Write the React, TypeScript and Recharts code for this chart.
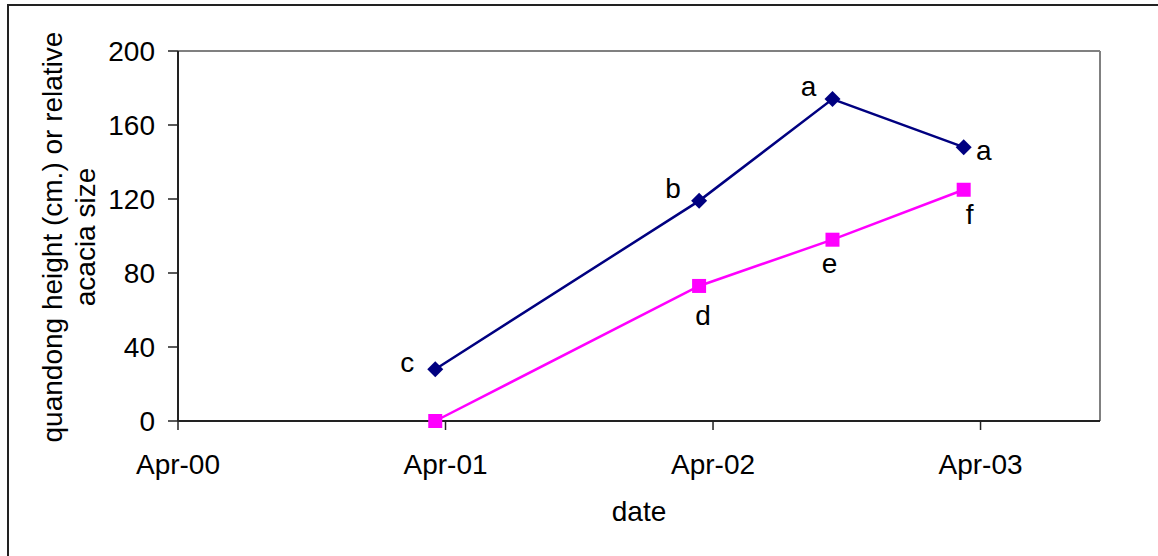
import React from 'react';
import { LineChart, Line, XAxis, YAxis, ReferenceLine, LabelList } from 'recharts';

const DATES = ['2001-03-18', '2002-03-13', '2002-09-11', '2003-03-09'];
const QUANDONG = [28, 119, 174, 148];
const ACACIA = [0, 73, 98, 125];
const QUANDONG_LETTERS = ['c', 'b', 'a', 'a'];
const ACACIA_LETTERS = ['', 'd', 'e', 'f'];
const X_TICKS = ['2000-04-01', '2001-04-01', '2002-04-01', '2003-04-01'];
const X_END = '2003-09-11';
const Y_TICKS = [0, 40, 80, 120, 160, 200];

// label placement relative to the point: [dx to text centre, dy to baseline]
const QUANDONG_LABEL_POS = [[-28, 3], [-26, -3], [-24, -3], [20, 13]];
const ACACIA_LABEL_POS = [[0, 0], [4, 39], [-3, 33], [6, 34]];

const MONTHS = ['Jan', 'Feb', 'Mar', 'Apr', 'May', 'Jun', 'Jul', 'Aug', 'Sep', 'Oct', 'Nov', 'Dec'];
const FONT = '"Liberation Sans", Arial, sans-serif';
const FS = 28;

const day = (s: string) => Date.parse(s + 'T00:00:00Z') / 86400000;

const data = DATES.map((d, i) => ({
  t: day(d),
  quandong: QUANDONG[i],
  acacia: ACACIA[i],
  qLabel: QUANDONG_LETTERS[i],
  aLabel: ACACIA_LETTERS[i],
}));

const fmtDate = (v: number) => {
  const d = new Date(v * 86400000);
  return `${MONTHS[d.getUTCMonth()]}-${String(d.getUTCFullYear() % 100).padStart(2, '0')}`;
};

const Diamond = (props: any) => {
  const { cx, cy, index } = props;
  const r = 8;
  return (
    <polygon
      key={`dia-${index}`}
      points={`${cx},${cy - r} ${cx + r},${cy} ${cx},${cy + r} ${cx - r},${cy}`}
      fill="#000080"
    />
  );
};

const Square = (props: any) => {
  const { cx, cy, index } = props;
  const s = 14;
  return <rect key={`sq-${index}`} x={cx - s / 2} y={cy - s / 2} width={s} height={s} fill="#FF00FF" />;
};

const letter = (pos: number[][]) => (props: any) => {
  const { x, y, value, index } = props;
  if (!value) return null;
  const [dx, dy] = pos[index];
  return (
    <text x={x + dx} y={y + dy} textAnchor="middle" fontFamily={FONT} fontSize={FS} fill="#000">
      {value}
    </text>
  );
};

const YTitle = (props: any) => {
  const { viewBox } = props;
  const cy = viewBox.y + viewBox.height / 2 + 1;
  const lines = [
    { x: 62, s: 'quandong height (cm.) or relative' },
    { x: 95, s: 'acacia size' },
  ];
  return (
    <g>
      {lines.map((l) => (
        <text
          key={l.s}
          x={l.x}
          y={cy}
          transform={`rotate(-90, ${l.x}, ${cy})`}
          textAnchor="middle"
          fontFamily={FONT}
          fontSize={FS}
          fill="#000"
        >
          {l.s}
        </text>
      ))}
    </g>
  );
};

const XTitle = (props: any) => {
  const { viewBox } = props;
  return (
    <text
      x={viewBox.x + viewBox.width / 2}
      y={viewBox.y + 100}
      textAnchor="middle"
      fontFamily={FONT}
      fontSize={FS}
      fill="#000"
    >
      date
    </text>
  );
};

export default function App() {
  const tickStyle = { fontFamily: FONT, fontSize: FS, fill: '#000' };
  return (
    <div style={{ position: 'absolute', left: 0, top: 0, width: 1158, height: 556, overflow: 'hidden', background: '#fff' }}>
      <div
        style={{
          position: 'absolute',
          left: 7,
          top: 4,
          width: 1300,
          height: 700,
          borderLeft: '2px solid #222',
          borderTop: '2px solid #222',
        }}
      />
      <div style={{ position: 'absolute', left: 0, top: 0 }}>
        <LineChart width={1158} height={556} data={data} margin={{ top: 51, right: 58, left: 78, bottom: 25 }}>
          <XAxis
            dataKey="t"
            type="number"
            domain={[day(X_TICKS[0]), day(X_END)]}
            ticks={X_TICKS.map(day)}
            tickFormatter={fmtDate}
            tick={tickStyle}
            tickSize={9}
            tickMargin={24}
            height={110}
            axisLine={{ stroke: '#222', strokeWidth: 2 }}
            tickLine={{ stroke: '#222', strokeWidth: 1.5 }}
            allowDataOverflow
            label={<XTitle />}
          />
          <YAxis
            type="number"
            domain={[0, 200]}
            ticks={Y_TICKS}
            tick={tickStyle}
            tickSize={10}
            tickMargin={13}
            width={100}
            axisLine={{ stroke: '#222', strokeWidth: 2 }}
            tickLine={{ stroke: '#222', strokeWidth: 1.5 }}
            label={<YTitle />}
          />
          <ReferenceLine y={200} stroke="#808080" strokeWidth={2} />
          <ReferenceLine x={day(X_END)} stroke="#808080" strokeWidth={2} />
          <Line
            dataKey="quandong"
            stroke="#000080"
            strokeWidth={2.5}
            dot={<Diamond />}
            isAnimationActive={false}
          >
            <LabelList dataKey="qLabel" content={letter(QUANDONG_LABEL_POS)} />
          </Line>
          <Line
            dataKey="acacia"
            stroke="#FF00FF"
            strokeWidth={2.5}
            dot={<Square />}
            isAnimationActive={false}
          >
            <LabelList dataKey="aLabel" content={letter(ACACIA_LABEL_POS)} />
          </Line>
        </LineChart>
      </div>
    </div>
  );
}
